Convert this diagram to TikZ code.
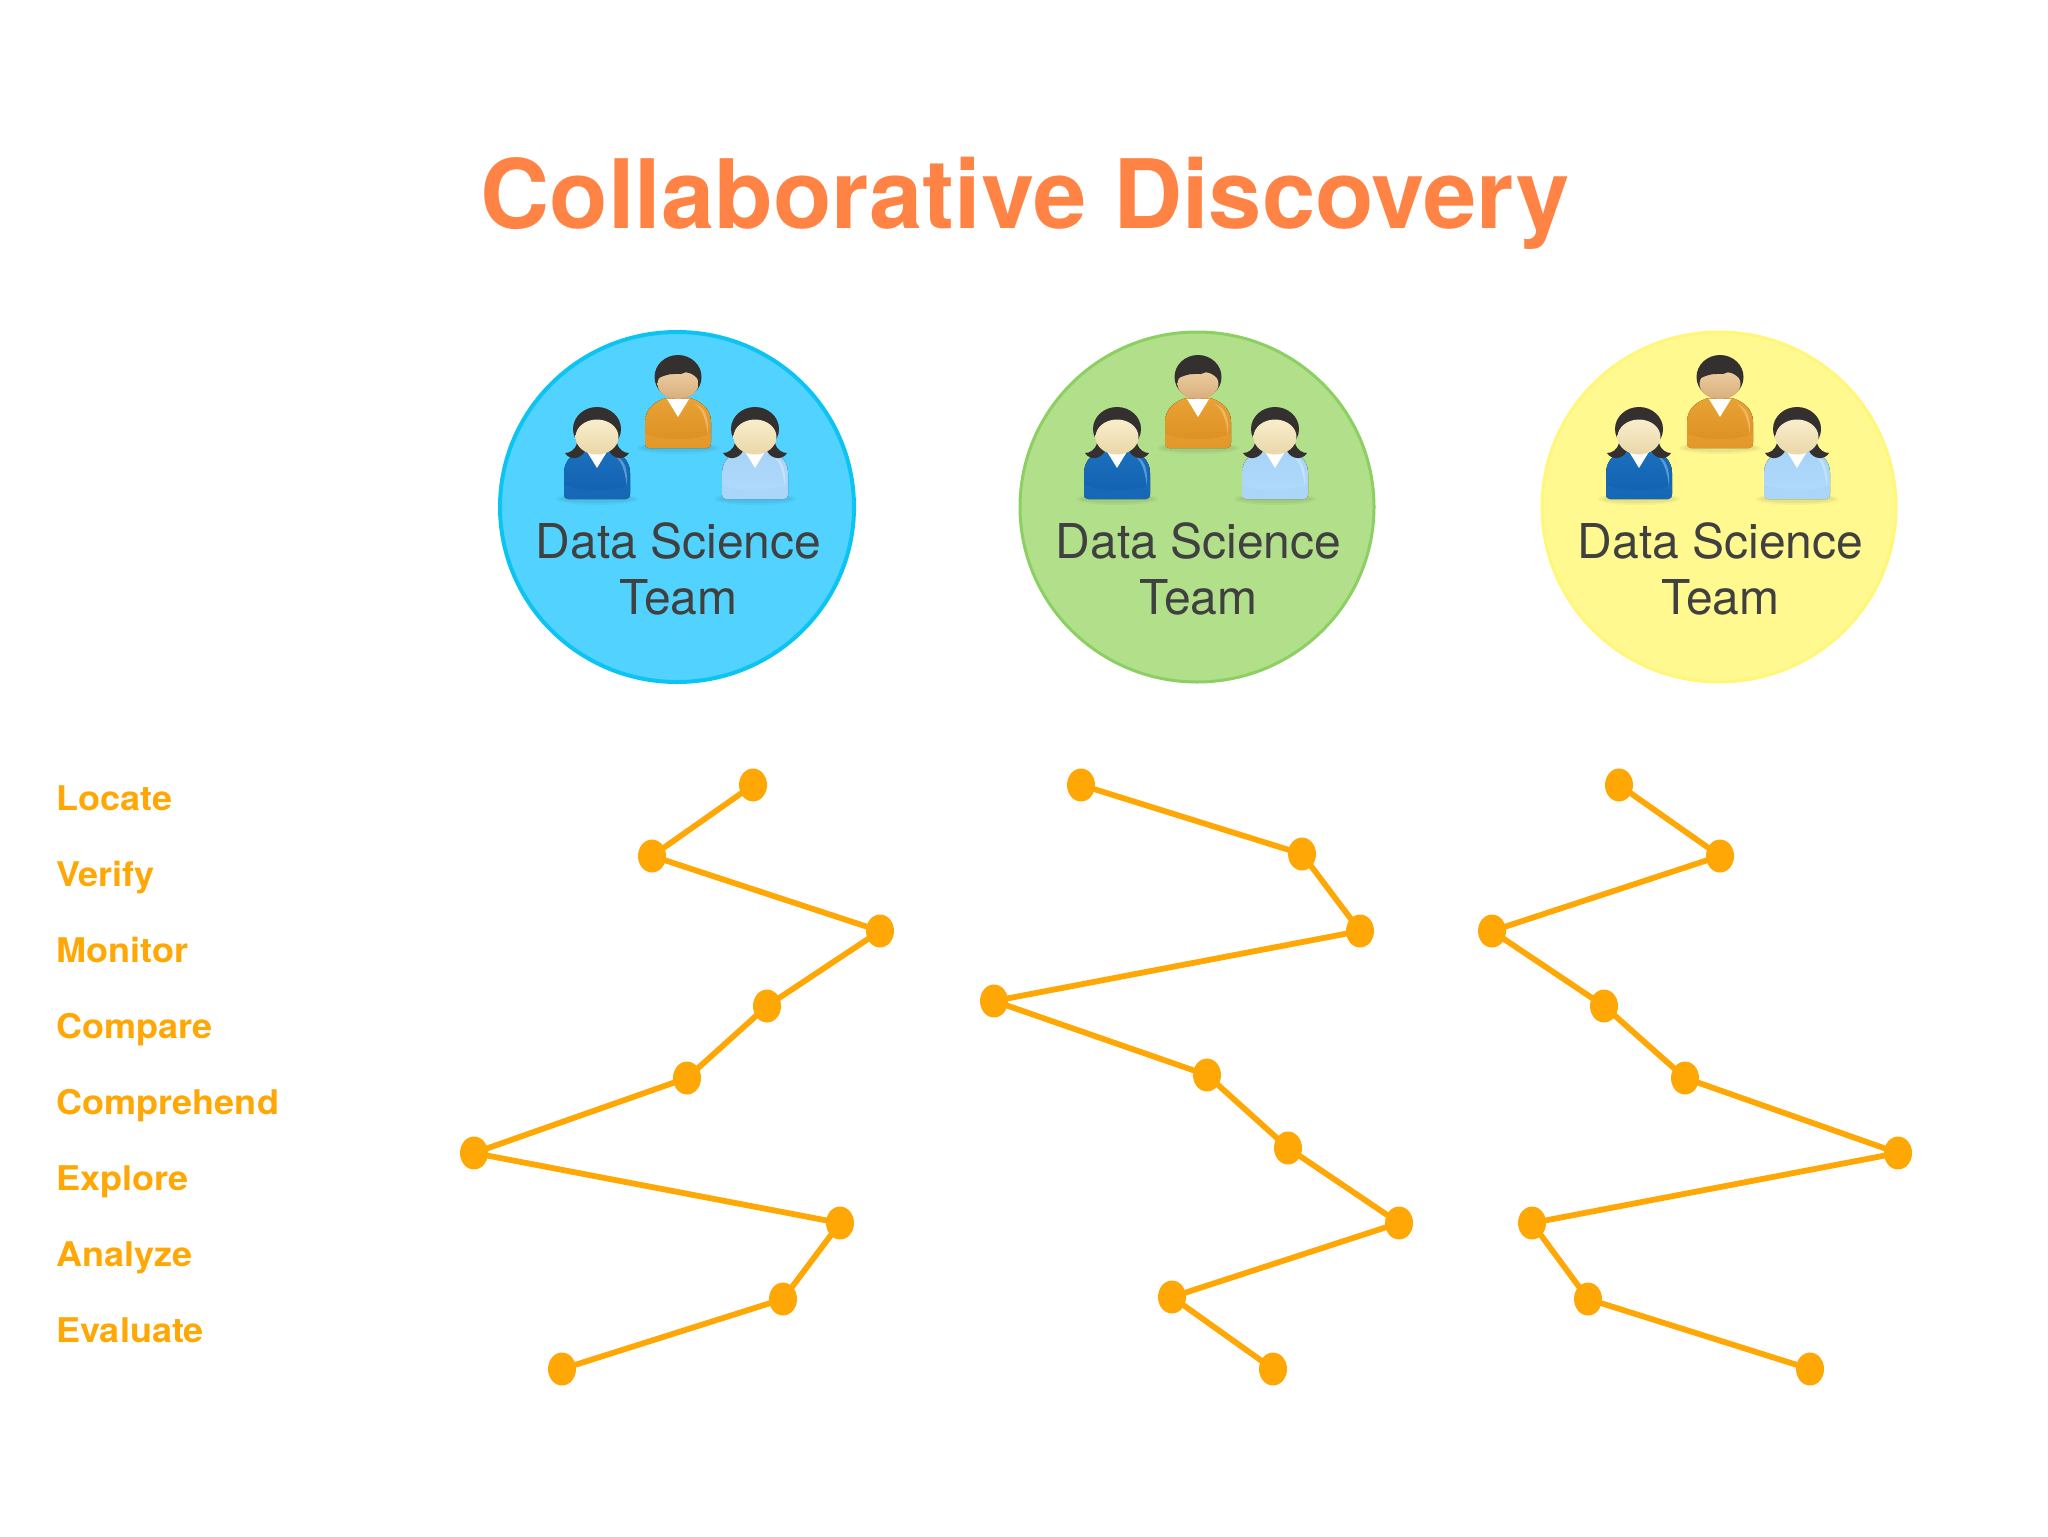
\documentclass[tikz,border=0pt]{standalone}
\usepackage{fontspec}
\setmainfont{TeX Gyre Heros}
\usetikzlibrary{shapes.geometric}
\definecolor{orangedot}{HTML}{FFA805}
\definecolor{titlecol}{HTML}{FF8345}
\definecolor{txtcol}{HTML}{404040}
\definecolor{cyanfill}{HTML}{52D3FF}
\definecolor{cyanline}{HTML}{0CC4F2}
\definecolor{greenfill}{HTML}{B2DF8A}
\definecolor{greenline}{HTML}{8CCF62}
\definecolor{yellowfill}{HTML}{FFF98F}
\definecolor{yellowline}{HTML}{FFF67A}
\definecolor{manface}{HTML}{EDCFA2}
\definecolor{manchin}{HTML}{D9AE7C}
\definecolor{wface}{HTML}{F8EDCB}
\definecolor{wchin}{HTML}{EAD7A9}
\definecolor{oranged}{HTML}{DC8E20}
\definecolor{orangel}{HTML}{E9A235}
\definecolor{orangeh}{HTML}{F6CF8C}
\definecolor{blued}{HTML}{1160AE}
\definecolor{bluel}{HTML}{1B70BE}
\definecolor{blueh}{HTML}{8FC4EA}
\definecolor{skyd}{HTML}{B2DBFC}
\definecolor{skyl}{HTML}{A6D3F8}
\definecolor{skyh}{HTML}{E0F0FF}
\definecolor{hair}{HTML}{33302F}
\tikzset{
  dot/.style={ellipse,fill=orangedot,draw=none,minimum width=14pt,minimum height=16.5pt,inner sep=0pt},
  link/.style={draw=orangedot,line width=2.9pt},
  lab/.style={anchor=base west,inner sep=0pt,text=orangedot,font=\bfseries\fontsize{17}{20}\selectfont\addfontfeatures{FakeStretch=1.06}},
  team/.style={ellipse,minimum width=177pt,minimum height=175pt,inner sep=0pt,line width=1.5pt},
  teamtext/.style={align=center,inner sep=0pt,text=txtcol,font=\fontsize{24}{28}\selectfont}
}
% body of a figure, local coordinates: head centre at (0,0)
\newcommand{\fbody}[4]{% dark, light, sheen, top
  \fill[black,opacity=.04] (0,#4+50) ellipse (41 and 6);
  \fill[black,opacity=.05] (0,#4+50) ellipse (37 and 4);
  \fill[top color=#2,bottom color=#1]
    (-29,#4+50) .. controls (-32,#4+50) and (-33,#4+48) .. (-33,#4+45)
    -- (-33,#4+24) .. controls (-33,#4+10) and (-22,#4+3) .. (-12,#4)
    -- (12,#4) .. controls (22,#4+3) and (33,#4+10) .. (33,#4+24)
    -- (33,#4+45) .. controls (33,#4+48) and (32,#4+50) .. (29,#4+50) -- cycle;
  \fill[#2,opacity=.5] (-33,#4+36) .. controls (-15,#4+43) and (15,#4+43) .. (33,#4+36)
    -- (33,#4+45) .. controls (33,#4+48) and (32,#4+50) .. (29,#4+50) -- (-29,#4+50)
    .. controls (-32,#4+50) and (-33,#4+48) .. (-33,#4+45) -- cycle;
  \fill[#3,opacity=.55] (17,#4+6) .. controls (27,#4+10) and (31,#4+18) .. (30,#4+38)
    .. controls (28,#4+22) and (25,#4+12) .. (17,#4+6) -- cycle;
  \fill[white] (-11,#4+1) -- (11,#4+1) -- (0,#4+19) -- cycle;
}
\newcommand{\manfig}[2]{\begin{scope}[shift={(#1,#2)}]
  \fbody{oranged}{orangel}{orangeh}{13}
  \fill[hair] (0,-8) ellipse (23.5 and 22);
  \shade[top color=manface,bottom color=manchin] (0,-1) ellipse (20.5 and 15);
  \fill[hair] (-21,-6) .. controls (-10,-12) and (-4,-11) .. (3,-11)
    .. controls (8,-15) and (16,-11) .. (21,-5) -- (16,-22) -- (-16,-22) -- cycle;
\end{scope}}
\newcommand{\womanfig}[5]{\begin{scope}[shift={(#1,#2)}]
  \fbody{#3}{#4}{#5}{14}
  \fill[hair] (-20,8) .. controls (-22,15) and (-27,18) .. (-32,18)
    .. controls (-27,26) and (-16,24) .. (-12,16) -- cycle;
  \fill[hair] (20,8) .. controls (22,15) and (27,18) .. (32,18)
    .. controls (27,26) and (16,24) .. (12,16) -- cycle;
  \fill[hair] (0,-6) ellipse (24 and 22);
  \shade[top color=wface,bottom color=wchin] (0,2) ellipse (21.5 and 17.5);
\end{scope}}
\newcommand{\peoplegroup}[1]{\begin{scope}[shift={(#1,0)}]
  \manfig{0}{385}
  \womanfig{-81}{435}{blued}{bluel}{blueh}
  \womanfig{77}{435}{skyd}{skyl}{skyh}
\end{scope}}
\begin{document}
\begin{tikzpicture}[x=0.5pt,y=-0.5pt]
\useasboundingbox (0,0) rectangle (2048,1536);
\node[anchor=base,inner sep=0pt,text=titlecol,font=\bfseries\fontsize{47.9}{54}\selectfont] (title) at (1025,228) {Collaborative Discovery};

\node[team,fill=cyanfill,draw=cyanline,line width=2pt] (t1) at (677,507) {};
\node[team,fill=greenfill,draw=greenline] (t2) at (1197,507) {};
\node[team,fill=yellowfill,draw=yellowline] (t3) at (1719,507) {};
\peoplegroup{678}
\peoplegroup{1198}
\peoplegroup{1720}
\node[teamtext] (t1text) at (678.5,569) {Data Science\\Team};
\node[teamtext] (t2text) at (1198.5,569) {Data Science\\Team};
\node[teamtext] (t3text) at (1720.5,569) {Data Science\\Team};

\node[lab] (l1) at (56,810) {Locate};
\node[lab] (l2) at (56,886) {Verify};
\node[lab] (l3) at (56,962) {Monitor};
\node[lab] (l4) at (56,1038) {Compare};
\node[lab] (l5) at (56,1114) {Comprehend};
\node[lab] (l6) at (56,1190) {Explore};
\node[lab] (l7) at (56,1266) {Analyze};
\node[lab] (l8) at (56,1342) {Evaluate};

\foreach \n/\x/\y in {a1/753/785,a2/652/856,a3/880/931,a4/767/1006,a5/687/1078,a6/474/1153,a7/840/1223,a8/783/1299,a9/562/1369,
 b1/1081/785,b2/1302/854,b3/1360/931,b4/994/1001,b5/1207/1075,b6/1288/1148,b7/1399/1223,b8/1172/1297,b9/1273/1369,
 c1/1619/785,c2/1720/856,c3/1492/931,c4/1604/1006,c5/1685/1078,c6/1898/1153,c7/1532/1223,c8/1588/1299,c9/1810/1369}
  \node[dot] (\n) at (\x,\y) {};
\foreach \c in {a,b,c}
  \draw[link] (\c1.center) -- (\c2.center) -- (\c3.center) -- (\c4.center) -- (\c5.center) -- (\c6.center) -- (\c7.center) -- (\c8.center) -- (\c9.center);
\end{tikzpicture}
\end{document}
